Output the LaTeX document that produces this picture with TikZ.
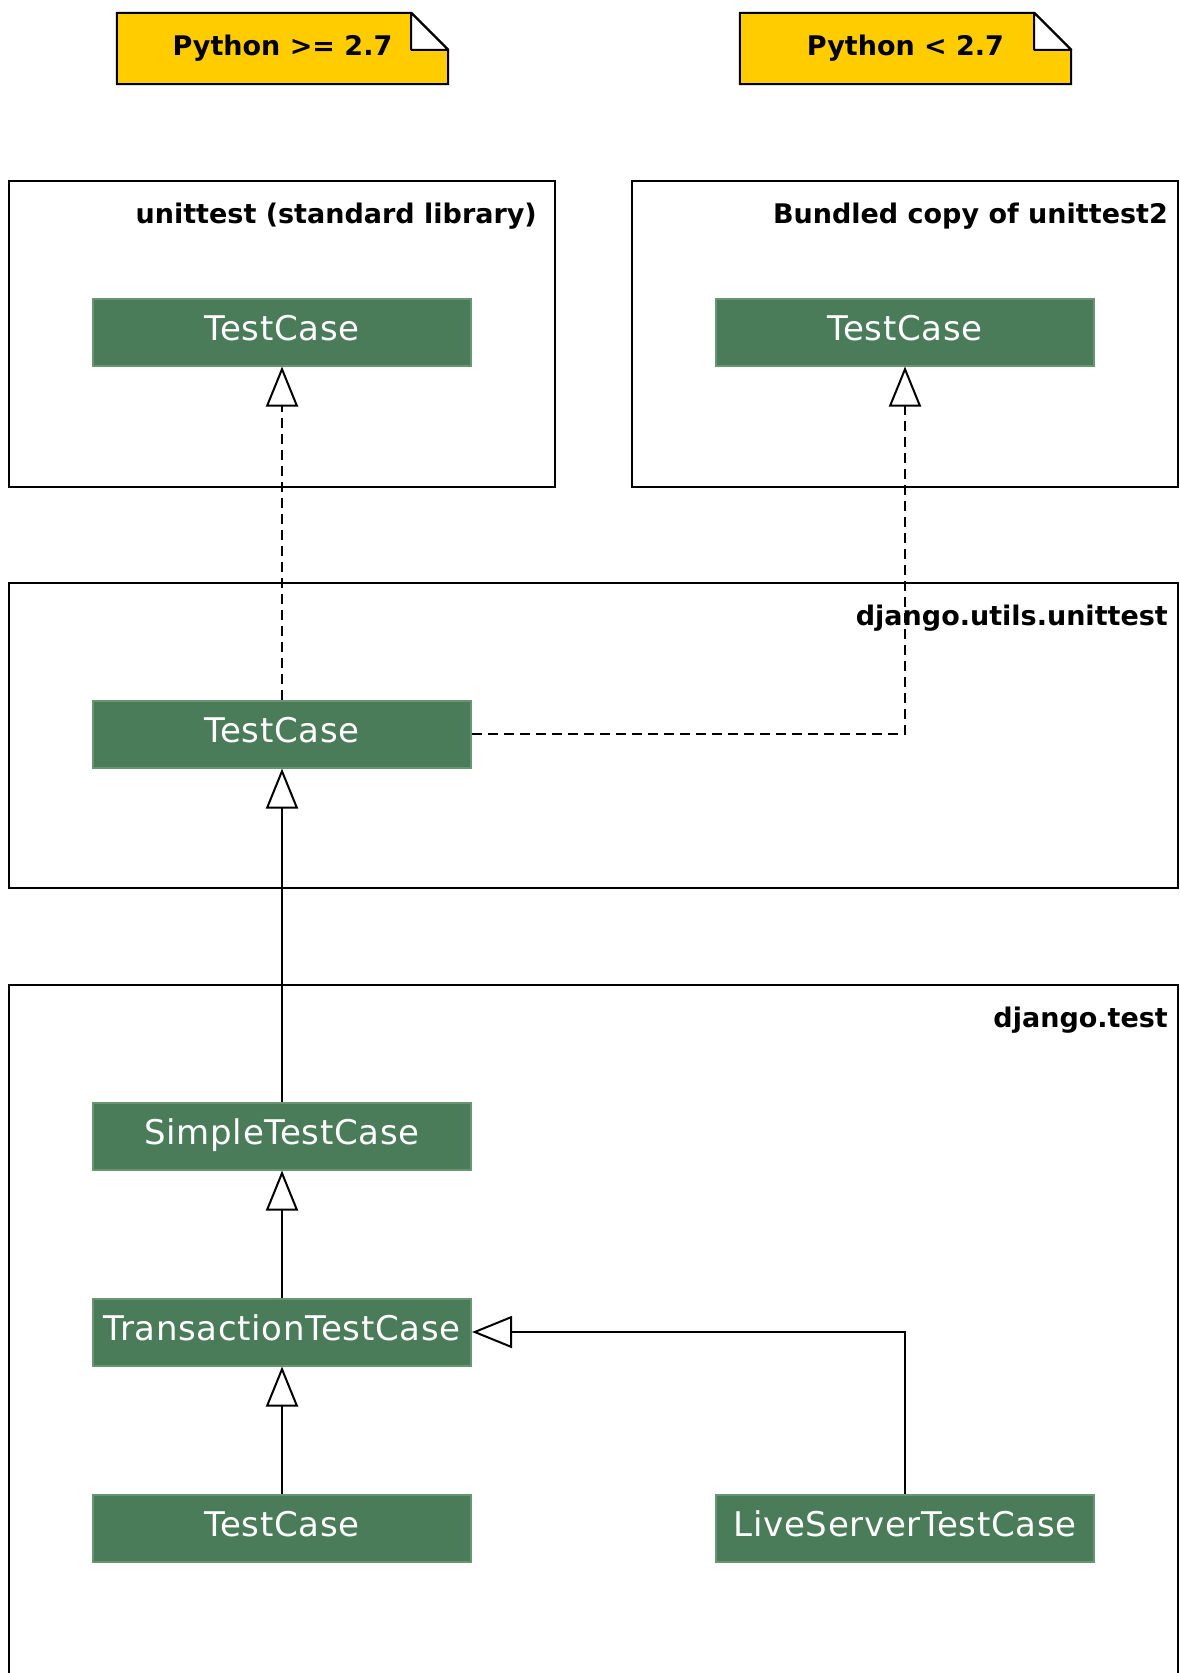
\documentclass[tikz,border=0pt]{standalone}
\usepackage{fontspec}
\setmainfont{DejaVu Sans}
\newfontfamily\clsfamily[LetterSpace=2]{DejaVu Sans}
\usetikzlibrary{arrows.meta,positioning}

\definecolor{clsfill}{RGB}{74,124,89}
\definecolor{clsborder}{RGB}{104,150,114}
\definecolor{notefill}{RGB}{255,204,0}

\newcommand{\clsfont}{\clsfamily\fontsize{34}{40}\selectfont}
\newcommand{\pkgfont}{\fontsize{27}{32}\selectfont\bfseries}

\tikzset{
  pkg/.style={draw, line width=2pt},
  pkglabel/.style={font=\pkgfont, anchor=base east, inner sep=0pt},
  cls/.style={draw=clsborder, fill=clsfill, line width=2pt, text=white,
    font=\clsfont, minimum width=378pt, minimum height=67pt, inner sep=0pt,
    text depth=8pt},
  notebox/.style={draw, line width=2pt, fill=notefill},
  notetext/.style={font=\pkgfont, minimum width=331pt, minimum height=71pt, inner sep=0pt},
  inherit/.style={-{Triangle[open,length=40pt,width=32pt,fill=white]}, line width=2pt},
  realize/.style={inherit, dash pattern=on 10pt off 6pt},
}

\begin{document}
\begin{tikzpicture}[x=1pt,y=-1pt]
  \useasboundingbox (0,0) rectangle (1179,1673);

  % notes
  \node[notetext] (newpy) at (282.5,48.5) {};
  \node[notetext] (oldpy) at (905.5,48.5) {};
  \foreach \n/\t in {newpy/{Python >= 2.7}, oldpy/{Python < 2.7}} {
    \draw[notebox] (\n.south west) |- ([xshift=-37pt]\n.north east)
      -- ([yshift=-37pt]\n.north east) |- cycle;
    \draw[line width=2pt, fill=white, line join=round] ([xshift=-37pt]\n.north east)
      |- ([yshift=-37pt]\n.north east) -- cycle;
    \node[font=\pkgfont] at (\n) {\t};
  }

  % packages
  \draw[pkg] (8.5,181) rectangle (555,487);
  \coordinate (stdpkg) at (555,181);
  \draw[pkg] (632,181) rectangle (1178,487);
  \coordinate (bundpkg) at (1178,181);
  \draw[pkg] (8.5,583) rectangle (1178,888);
  \coordinate (utilspkg) at (1178,583);
  \draw[pkg] (8.5,1690) |- (1178,985) -- (1178,1690);
  \coordinate (testpkg) at (1178,985);

  \node[pkglabel] at ([shift={(-18,42)}]stdpkg) {unittest (standard library)};
  \node[pkglabel] at ([shift={(-10,42)}]bundpkg) {Bundled copy of unittest2};
  \node[pkglabel] at ([shift={(-10,42)}]utilspkg) {django.utils.unittest};
  \node[pkglabel] at ([shift={(-10,42)}]testpkg) {django.test};

  % classes
  \node[cls] (std) at (282,332) {TestCase};
  \node[cls] (bund) at (905,332) {TestCase};
  \node[cls] (utils) at (282,734) {TestCase};
  \node[cls] (simple) at (282,1136) {SimpleTestCase};
  \node[cls] (trans) at (282,1332) {TransactionTestCase};
  \node[cls] (tc) at (282,1528) {TestCase};
  \node[cls] (live) at (905,1528) {LiveServerTestCase};

  % relations
  \draw[realize] (utils) -- (std);
  \draw[realize] (utils.east) -| (bund.south);
  \draw[inherit] (simple) -- (utils);
  \draw[inherit] (trans) -- (simple);
  \draw[inherit] (tc) -- (trans);
  \draw[inherit] (live.north) |- (trans.east);
\end{tikzpicture}
\end{document}
